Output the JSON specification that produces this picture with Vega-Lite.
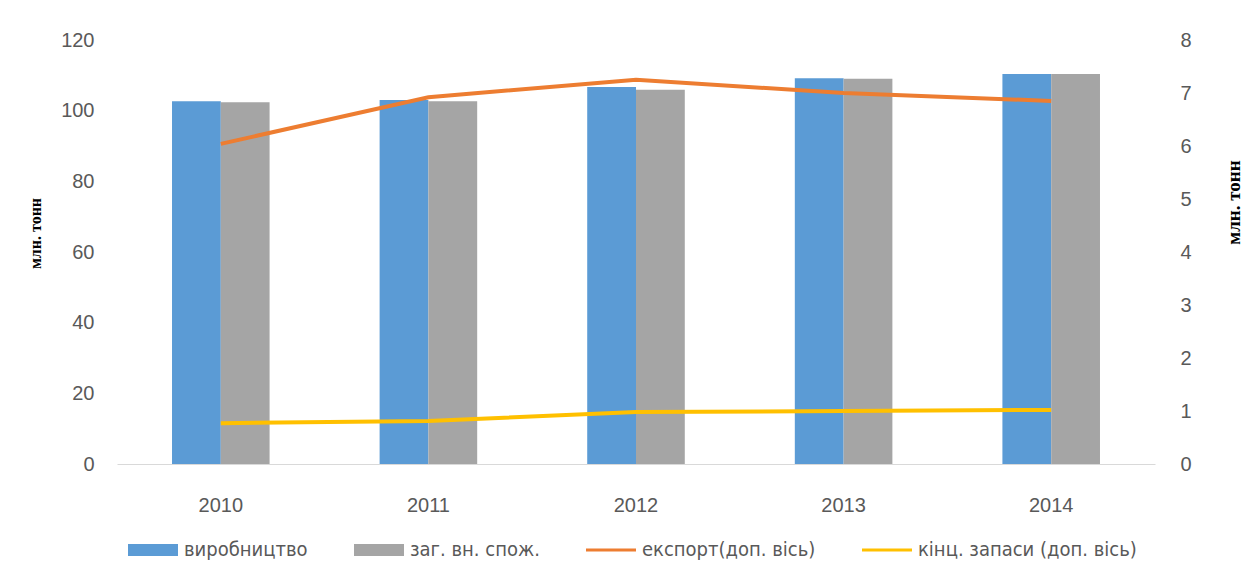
{
  "$schema": "https://vega.github.io/schema/vega-lite/v6.json",
  "width": 1038,
  "height": 424,
  "autosize": {"type": "none"},
  "padding": {"left": 117, "top": 40, "right": 99, "bottom": 114},
  "background": "white",
  "config": {
    "view": {"stroke": null},
    "axis": {"labelFont": "Liberation Sans", "labelFontSize": 20, "labelColor": "#595959", "grid": false, "ticks": false, "domain": false, "titleFont": "Liberation Serif", "titleFontWeight": "bold", "titleFontSize": 16, "titleColor": "#000000"}
  },
  "datasets": {
    "bars": [
      {"year": "2010", "series": "виробництво", "value": 102.7},
      {"year": "2010", "series": "заг. вн. спож.", "value": 102.4},
      {"year": "2011", "series": "виробництво", "value": 103.0},
      {"year": "2011", "series": "заг. вн. спож.", "value": 102.7},
      {"year": "2012", "series": "виробництво", "value": 106.7},
      {"year": "2012", "series": "заг. вн. спож.", "value": 105.9},
      {"year": "2013", "series": "виробництво", "value": 109.2},
      {"year": "2013", "series": "заг. вн. спож.", "value": 109.0},
      {"year": "2014", "series": "виробництво", "value": 110.4},
      {"year": "2014", "series": "заг. вн. спож.", "value": 110.4}
    ],
    "lines": [
      {"year": "2010", "series": "експорт(доп. вісь)", "value": 6.04},
      {"year": "2011", "series": "експорт(доп. вісь)", "value": 6.92},
      {"year": "2012", "series": "експорт(доп. вісь)", "value": 7.25},
      {"year": "2013", "series": "експорт(доп. вісь)", "value": 7.0},
      {"year": "2014", "series": "експорт(доп. вісь)", "value": 6.85},
      {"year": "2010", "series": "кінц. запаси (доп. вісь)", "value": 0.77},
      {"year": "2011", "series": "кінц. запаси (доп. вісь)", "value": 0.81},
      {"year": "2012", "series": "кінц. запаси (доп. вісь)", "value": 0.98},
      {"year": "2013", "series": "кінц. запаси (доп. вісь)", "value": 1.0},
      {"year": "2014", "series": "кінц. запаси (доп. вісь)", "value": 1.02}
    ]
  },
  "layer": [
    {
      "data": {"name": "bars"},
      "mark": {"type": "bar"},
      "encoding": {
        "x": {"field": "year", "type": "nominal", "scale": {"paddingInner": 0.53, "paddingOuter": 0.265},
          "axis": {"title": null, "labelAngle": 0, "domain": true, "domainColor": "#d9d9d9", "domainWidth": 1, "labelPadding": 31}},
        "xOffset": {"field": "series", "type": "nominal", "scale": {"paddingInner": 0, "domain": ["виробництво", "заг. вн. спож."]}},
        "y": {"field": "value", "type": "quantitative", "scale": {"domain": [0, 120], "nice": false},
          "axis": {"title": "млн. тонн", "values": [0, 20, 40, 60, 80, 100, 120], "labelPadding": 23, "titlePadding": 17, "titleY": 193}},
        "color": {"field": "series", "type": "nominal",
          "scale": {"domain": ["виробництво", "заг. вн. спож.", "експорт(доп. вісь)", "кінц. запаси (доп. вісь)"], "range": ["#5B9BD5", "#A5A5A5", "#ED7D31", "#FFC000"]},
          "legend": {"title": null, "orient": "none", "legendX": 11, "legendY": 485, "direction": "horizontal",
            "labelFont": "DejaVu Sans Condensed", "labelFontSize": 20, "labelColor": "#595959", "labelLimit": 400,
            "symbolSize": 2500, "symbolType": "M-1,-0.24H1V0.24H-1Z", "labelOffset": 6, "columnPadding": 46,
            "encode": {"symbols": {"update": {
              "shape": {"signal": "indexof(['виробництво','заг. вн. спож.'], datum.value) >= 0 ? 'M-1,-0.24H1V0.24H-1Z' : 'M-1,-0.06H1V0.06H-1Z'"},
              "fill": {"signal": "scale('color', datum.value)"},
              "strokeWidth": {"value": 0},
              "opacity": {"value": 1},
              "fillOpacity": {"value": 1}
            }}}}
        }
      }
    },
    {
      "data": {"name": "lines"},
      "mark": {"type": "line", "strokeWidth": 4},
      "encoding": {
        "x": {"field": "year", "type": "nominal"},
        "y": {"field": "value", "type": "quantitative", "scale": {"domain": [0, 8], "nice": false},
          "axis": {"title": "млн. тонн", "orient": "right", "values": [0, 1, 2, 3, 4, 5, 6, 7, 8], "labelPadding": 25, "titlePadding": 52, "titleAngle": 270, "titleY": 162, "titleFontSize": 19}},
        "color": {"field": "series", "type": "nominal"}
      }
    }
  ],
  "resolve": {"scale": {"y": "independent"}}
}
